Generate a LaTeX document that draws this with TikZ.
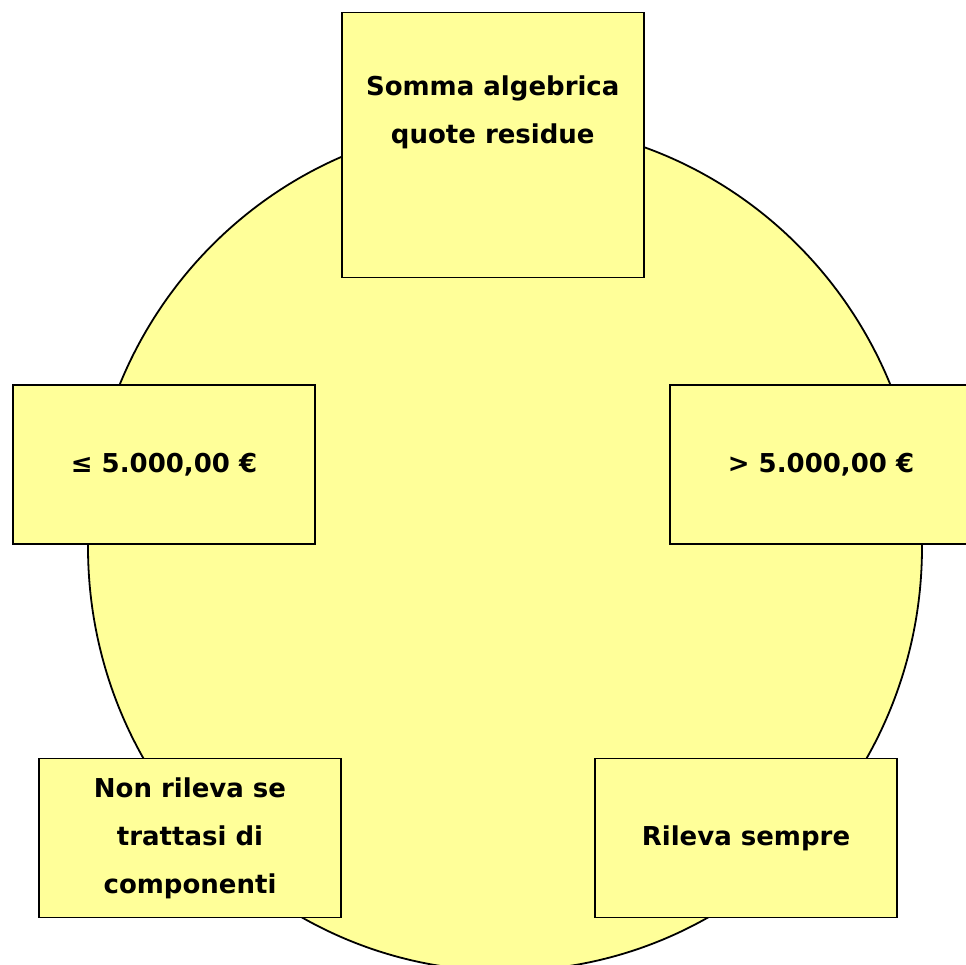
\documentclass[tikz,border=0pt]{standalone}
\usepackage{fontspec}
\setmainfont{DejaVu Sans}
\definecolor{boxyellow}{HTML}{FFFF99}
\begin{document}
\begin{tikzpicture}[x=1pt,y=-1pt,
  lbl/.style={font=\bfseries\fontsize{26}{48}\selectfont, align=center, text=black, inner sep=0pt},
  box/.style={lbl, draw=black, line width=1.8pt, fill=boxyellow, minimum width=302pt, minimum height=159pt}]
\clip (0,0) rectangle (966,964);
\fill[white] (0,0) rectangle (966,964);
\draw[fill=boxyellow, line width=1.8pt] (505,547) ellipse [x radius=417, y radius=424];
\node[box, minimum height=265pt] (sum) at (492.75,145) {};
\node[lbl] (sumtxt) at (492.75,112.5) {Somma algebrica\\quote residue};
\node[box] (le) at (164,464.5) {≤ 5.000,00 €};
\node[box] (gt) at (821,464.5) {> 5.000,00 €};
\node[box] (nr) at (190,838) {Non rileva se\\trattasi di\\componenti};
\node[box] (rs) at (746,838) {Rileva sempre};
\end{tikzpicture}
\end{document}
